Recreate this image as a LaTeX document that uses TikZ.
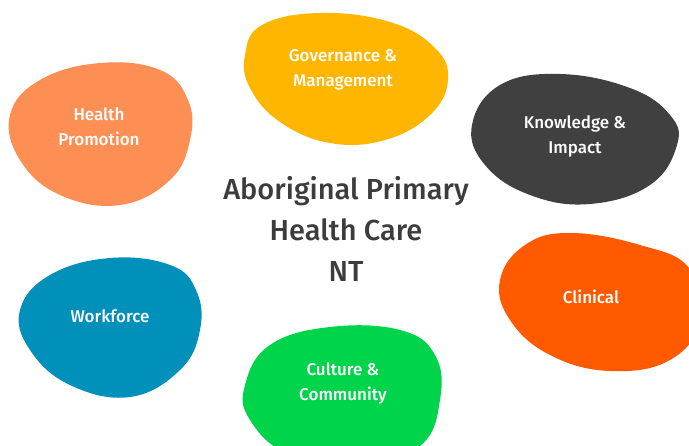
\documentclass[tikz,border=0pt]{standalone}
\usepackage{fontspec}
\setmainfont{Fira Sans}[UprightFont={* Medium}]
\usepackage{tikz}

\definecolor{govyellow}{HTML}{FFB600}
\definecolor{promsalmon}{HTML}{FD8F55}
\definecolor{knowgrey}{HTML}{404040}
\definecolor{clinorange}{HTML}{FF5A00}
\definecolor{workblue}{HTML}{0090BA}
\definecolor{cultgreen}{HTML}{00D44A}
\definecolor{titlegrey}{HTML}{3C3C3C}

\tikzset{
    blobtext/.style={text=white, align=center, font=\fontsize{17}{25}\selectfont},
    titletext/.style={text=titlegrey, align=center, font=\fontsize{29}{41}\selectfont}
}

\begin{document}
\begin{tikzpicture}[x=1pt, y=-1pt]
            \useasboundingbox (0,0) rectangle (689,446);
            \clip (0,0) rectangle (689,446);

            % blobs
            \fill[govyellow] plot[smooth cycle, tension=0.7] coordinates {(262,25) (320,13) (390,22) (435,48) (448,80) (430,115) (385,140) (330,143) (280,122) (250,88) (245,55)};
            \fill[promsalmon] plot[smooth cycle, tension=0.7] coordinates {(40,80) (100,63) (160,70) (188,100) (190,140) (170,180) (120,205) (60,195) (20,160) (10,115)};
            \fill[knowgrey] plot[smooth cycle, tension=0.7] coordinates {(500,85) (560,74) (630,88) (670,115) (677,145) (650,185) (590,204) (530,195) (485,165) (472,125)};
            \fill[clinorange] plot[smooth cycle, tension=0.7] coordinates {(525,245) (570,233) (640,245) (689,268) (700,320) (670,360) (610,371) (550,355) (510,320) (500,280)};
            \fill[workblue] plot[smooth cycle, tension=0.7] coordinates {(50,275) (110,258) (170,265) (196,290) (200,330) (180,370) (130,397) (70,385) (30,350) (20,310)};
            \fill[cultgreen] plot[smooth cycle, tension=0.7] coordinates {(270,345) (330,327) (400,330) (435,355) (440,400) (420,446) (360,465) (290,455) (250,420) (245,385)};

            % labels
            \node[blobtext] (gov) at (343,70) {Governance \&\\Management};
            \node[blobtext] (prom) at (99,127) {Health\\Promotion};
            \node[blobtext] (know) at (575,136) {Knowledge \&\\Impact};
            \node[blobtext] (clin) at (591,297) {Clinical};
            \node[blobtext] (work) at (110,316) {Workforce};
            \node[blobtext] (cult) at (343,383) {Culture \&\\Community};

            \node[titletext] (title) at (346,229) {Aboriginal Primary\\Health Care\\NT};
        \end{tikzpicture}
\end{document}
